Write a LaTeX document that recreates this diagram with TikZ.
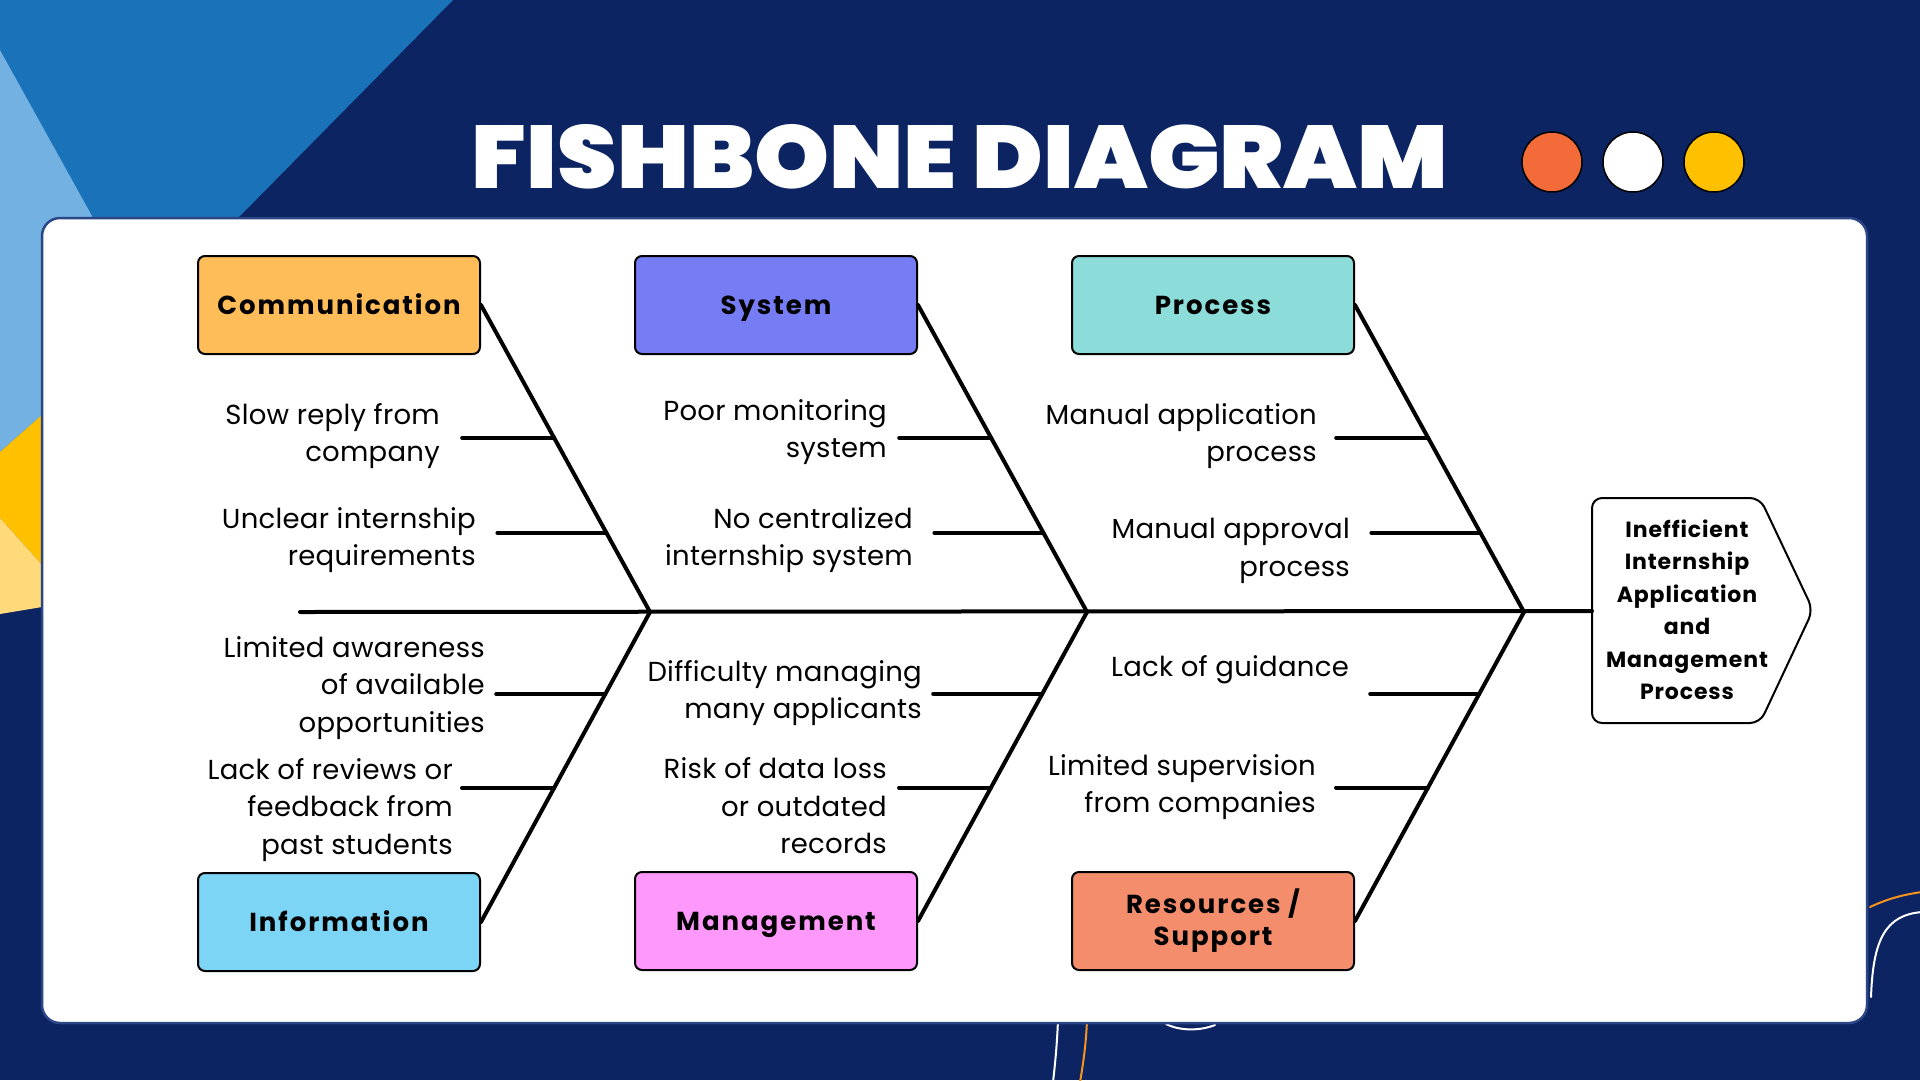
\documentclass[tikz,border=0pt]{standalone}
\usepackage{fontspec}
\setmainfont{Poppins}
\newfontfamily\titlefont{Poppins Black}
\usepackage{graphicx}
\usetikzlibrary{calc}
\definecolor{navy}{HTML}{0C2461}
\definecolor{midblue}{HTML}{1A72B8}
\definecolor{lightblue}{HTML}{72B1E1}
\definecolor{ayellow}{HTML}{FFC000}
\definecolor{lyellow}{HTML}{FFD97A}
\definecolor{cardborder}{HTML}{2B4585}
\definecolor{cComm}{HTML}{FFBD59}
\definecolor{cSys}{HTML}{767CF3}
\definecolor{cProc}{HTML}{8CDCDA}
\definecolor{cInfo}{HTML}{7DD5F5}
\definecolor{cMgmt}{HTML}{FE99FB}
\definecolor{cRes}{HTML}{F48D6C}
\definecolor{dotorange}{HTML}{F26B38}
\definecolor{decoorange}{HTML}{F7941D}
\begin{document}
\begin{tikzpicture}[x=1pt,y=-1pt,
  catbox/.style={draw=black, line width=2pt, rounded corners=7pt, minimum width=282pt, minimum height=98pt, inner sep=0pt, align=center, font=\bfseries\fontsize{26}{32}\selectfont\addfontfeature{LetterSpace=7.5}},
  catone/.style={catbox, text height=18.5pt, text depth=0pt},
  bone/.style={line width=4pt, line cap=round},
  lbl/.style={align=right, anchor=east, inner sep=0pt, font=\fontsize{27.5}{37.5}\selectfont\addfontfeature{LetterSpace=1}},
  dot/.style={draw=black, line width=1.5pt, minimum size=60pt, inner sep=0pt, circle},
  deco/.style={line width=2pt, line cap=round}
]
\useasboundingbox (0,0) rectangle (1920,1080);
% background
\fill[navy] (0,0) rectangle (1920,1080);
\fill[midblue] (0,0) -- (453,0) -- (238,218) -- (92,218) -- (0,50) -- cycle;
\fill[lightblue] (0,50) -- (92,216) -- (92,300) -- (42,415) -- (0,452) -- cycle;
\fill[ayellow] (0,452) -- (60,399) -- (60,585) -- (0,518) -- cycle;
\fill[lyellow] (0,518) -- (60,585) -- (60,604) -- (0,614) -- cycle;
% decorations
\draw[deco, white] (1058,1020) .. controls (1057,1045) and (1055,1065) .. (1053,1082);
\draw[deco, decoorange] (1087,1020) .. controls (1086,1045) and (1083,1065) .. (1080,1082);
\draw[deco, white] (1166,1024) .. controls (1180,1031) and (1200,1031) .. (1215,1025);
\draw[deco, decoorange] (1870,907) .. controls (1885,900) and (1900,895) .. (1922,892);
\draw[deco, white] (1871,997) .. controls (1873,940) and (1885,915) .. (1922,912);
% card
\draw[cardborder, line width=2.5pt, fill=white, rounded corners=18pt] (42,218) rectangle (1867,1023);
% title
\node[inner sep=0pt, white] (title) at (960,157) {\resizebox{976pt}{64pt}{\titlefont FISHBONE DIAGRAM}};
\node[dot, fill=dotorange] (d1) at (1552,162) {};
\node[dot, fill=white] (d2) at (1633,162) {};
\node[dot, fill=ayellow] (d3) at (1714,162) {};
% category boxes
\node[catone, fill=cComm] (comm) at (339,305) {Communication};
\node[catone, fill=cSys] (sys) at (776,305) {System};
\node[catone, fill=cProc] (proc) at (1213,305) {Process};
\node[catone, fill=cInfo] (info) at (339,922) {Information};
\node[catone, fill=cMgmt] (mgmt) at (776,921) {Management};
\node[catbox, fill=cRes] (res) at (1213,921) {Resources /\\Support};
% head
\draw[line width=2pt, rounded corners=10pt, fill=white] (1592,498) -- (1760,498) -- (1813,610) -- (1760,723) -- (1592,723) -- cycle;
\coordinate (headW) at (1592,611);
\node[inner sep=0pt, align=center, font=\bfseries\fontsize{22}{32.5}\selectfont\addfontfeature{LetterSpace=4}] (head) at (1687,610) {Inefficient\\Internship\\Application\\and\\Management\\Process};
% spine
\coordinate (spineL) at (300,612);
\coordinate (j1) at (650,612);
\coordinate (j2) at (1087,612);
\coordinate (j3) at (1524,612);
\draw[bone] (spineL) -- (headW);
% bones
\draw[bone] (comm.east) -- (j1);
\draw[bone] (sys.east) -- (j2);
\draw[bone] (proc.east) -- (j3);
\draw[bone] (info.east) -- (j1);
\draw[bone] (mgmt.east) -- (j2);
\draw[bone] (res.east) -- (j3);
% ribs
\foreach \b/\j in {comm/j1, sys/j2, proc/j3}{
  \coordinate (\b r1) at ($(\b.east)!0.433!(\j)$);
  \coordinate (\b r2) at ($(\b.east)!0.742!(\j)$);
  \draw[bone] (\b r1) -- ++(-92,0);
  \draw[bone] (\b r2) -- ++(-109,0);
}
\foreach \b/\j in {info/j1, mgmt/j2, res/j3}{
  \coordinate (\b r1) at ($(\b.east)!0.735!(\j)$);
  \coordinate (\b r2) at ($(\b.east)!0.432!(\j)$);
  \draw[bone] (\b r1) -- ++(-109,0);
  \draw[bone] (\b r2) -- ++(-92,0);
}
% labels
\node[lbl] (l1) at (440,436) {Slow reply from\\company};
\node[lbl] (l2) at (476,540) {Unclear internship\\requirements};
\node[lbl] (l3) at (485,688) {Limited awareness\\of available\\opportunities};
\node[lbl] (l4) at (453,810) {Lack of reviews or\\feedback from\\past students};
\node[lbl] (l5) at (887,432) {Poor monitoring\\system};
\node[lbl] (l6) at (913,540) {No centralized\\internship system};
\node[lbl] (l7) at (922,693) {Difficulty managing\\many applicants};
\node[lbl] (l8) at (887,806) {Risk of data loss\\or outdated\\records};
\node[lbl] (l9) at (1317,436) {Manual application\\process};
\node[lbl] (l10) at (1350,551) {Manual approval\\process};
\node[lbl] (l11) at (1349,670) {Lack of guidance};
\node[lbl] (l12) at (1316,787) {Limited supervision\\from companies};
\end{tikzpicture}
\end{document}
